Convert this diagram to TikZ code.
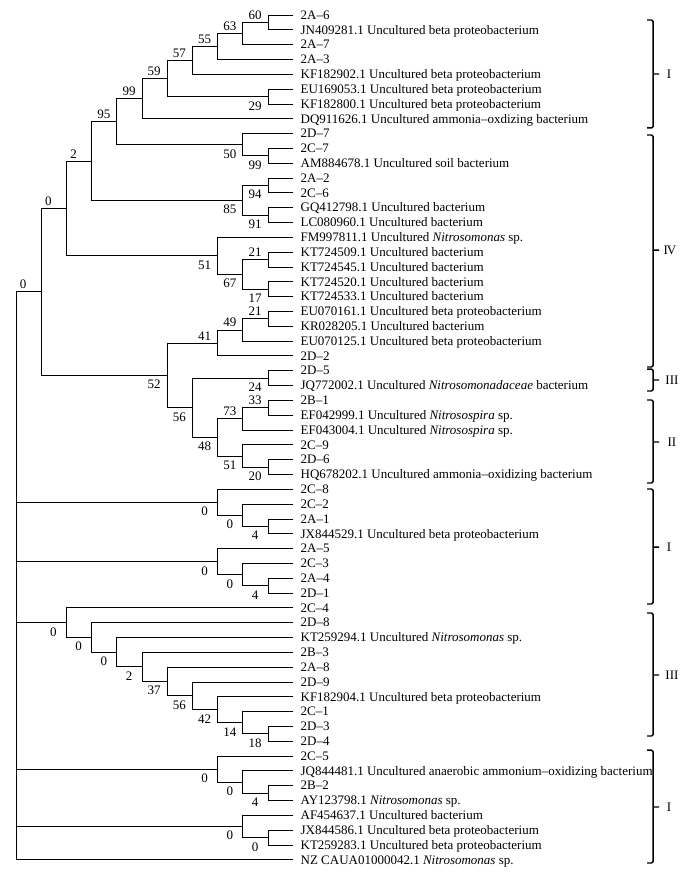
\documentclass[tikz,border=0pt]{standalone}
\usepackage{fontspec}
\setmainfont{Liberation Serif}
\usepackage{tikz}

\begin{document}
\begin{tikzpicture}
[x=25.2pt, y=-14.82pt, line width=0.8pt,
 leaf/.style={anchor=west, inner sep=0pt, inner xsep=7pt, text height=8.6pt, text depth=0pt, font=\fontsize{13}{15}\selectfont},
 bsu/.style={anchor=south, inner sep=0pt, xshift=-13pt, yshift=2.5pt, font=\fontsize{13}{15}\selectfont},
 bsd/.style={anchor=north, inner sep=0pt, xshift=-13pt, yshift=-4.5pt, font=\fontsize{13}{15}\selectfont},
 clade/.style={line width=1.4pt, rounded corners=1.5pt},
 grp/.style={inner sep=0pt, font=\fontsize{13}{15}\selectfont}]
\useasboundingbox (-0.635, -0.012) rectangle (26.98, 59.23);

% leaves
\node[leaf] (l1) at (11,1) {2A--6};
\node[leaf] (l2) at (11,2) {JN409281.1 Uncultured beta proteobacterium};
\node[leaf] (l3) at (11,3) {2A--7};
\node[leaf] (l4) at (11,4) {2A--3};
\node[leaf] (l5) at (11,5) {KF182902.1 Uncultured beta proteobacterium};
\node[leaf] (l6) at (11,6) {EU169053.1 Uncultured beta proteobacterium};
\node[leaf] (l7) at (11,7) {KF182800.1 Uncultured beta proteobacterium};
\node[leaf] (l8) at (11,8) {DQ911626.1 Uncultured ammonia--oxdizing bacterium};
\node[leaf] (l9) at (11,9) {2D--7};
\node[leaf] (l10) at (11,10) {2C--7};
\node[leaf] (l11) at (11,11) {AM884678.1 Uncultured soil bacterium};
\node[leaf] (l12) at (11,12) {2A--2};
\node[leaf] (l13) at (11,13) {2C--6};
\node[leaf] (l14) at (11,14) {GQ412798.1 Uncultured bacterium};
\node[leaf] (l15) at (11,15) {LC080960.1 Uncultured bacterium};
\node[leaf] (l16) at (11,16) {FM997811.1 Uncultured \textit{Nitrosomonas} sp.};
\node[leaf] (l17) at (11,17) {KT724509.1 Uncultured bacterium};
\node[leaf] (l18) at (11,18) {KT724545.1 Uncultured bacterium};
\node[leaf] (l19) at (11,19) {KT724520.1 Uncultured bacterium};
\node[leaf] (l20) at (11,20) {KT724533.1 Uncultured bacterium};
\node[leaf] (l21) at (11,21) {EU070161.1 Uncultured beta proteobacterium};
\node[leaf] (l22) at (11,22) {KR028205.1 Uncultured bacterium};
\node[leaf] (l23) at (11,23) {EU070125.1 Uncultured beta proteobacterium};
\node[leaf] (l24) at (11,24) {2D--2};
\node[leaf] (l25) at (11,25) {2D--5};
\node[leaf] (l26) at (11,26) {JQ772002.1 Uncultured \textit{Nitrosomonadaceae} bacterium};
\node[leaf] (l27) at (11,27) {2B--1};
\node[leaf] (l28) at (11,28) {EF042999.1 Uncultured \textit{Nitrosospira} sp.};
\node[leaf] (l29) at (11,29) {EF043004.1 Uncultured \textit{Nitrosospira} sp.};
\node[leaf] (l30) at (11,30) {2C--9};
\node[leaf] (l31) at (11,31) {2D--6};
\node[leaf] (l32) at (11,32) {HQ678202.1 Uncultured ammonia--oxidizing bacterium};
\node[leaf] (l33) at (11,33) {2C--8};
\node[leaf] (l34) at (11,34) {2C--2};
\node[leaf] (l35) at (11,35) {2A--1};
\node[leaf] (l36) at (11,36) {JX844529.1 Uncultured beta proteobacterium};
\node[leaf] (l37) at (11,37) {2A--5};
\node[leaf] (l38) at (11,38) {2C--3};
\node[leaf] (l39) at (11,39) {2A--4};
\node[leaf] (l40) at (11,40) {2D--1};
\node[leaf] (l41) at (11,41) {2C--4};
\node[leaf] (l42) at (11,42) {2D--8};
\node[leaf] (l43) at (11,43) {KT259294.1 Uncultured \textit{Nitrosomonas} sp.};
\node[leaf] (l44) at (11,44) {2B--3};
\node[leaf] (l45) at (11,45) {2A--8};
\node[leaf] (l46) at (11,46) {2D--9};
\node[leaf] (l47) at (11,47) {KF182904.1 Uncultured beta proteobacterium};
\node[leaf] (l48) at (11,48) {2C--1};
\node[leaf] (l49) at (11,49) {2D--3};
\node[leaf] (l50) at (11,50) {2D--4};
\node[leaf] (l51) at (11,51) {2C--5};
\node[leaf] (l52) at (11,52) {JQ844481.1 Uncultured anaerobic ammonium--oxidizing bacterium};
\node[leaf] (l53) at (11,53) {2B--2};
\node[leaf] (l54) at (11,54) {AY123798.1 \textit{Nitrosomonas} sp.};
\node[leaf] (l55) at (11,55) {AF454637.1 Uncultured bacterium};
\node[leaf] (l56) at (11,56) {JX844586.1 Uncultured beta proteobacterium};
\node[leaf] (l57) at (11,57) {KT259283.1 Uncultured beta proteobacterium};
\node[leaf] (l58) at (11,58) {NZ CAUA01000042.1 \textit{Nitrosomonas} sp.};

% inner nodes and bootstrap values
\coordinate (n60) at (10,1.5); \node[bsu] (b60) at (n60) {60};
\coordinate (n63) at (9,2.25); \node[bsu] (b63) at (n63) {63};
\coordinate (n55) at (8,3.125); \node[bsu] (b55) at (n55) {55};
\coordinate (n57) at (7,4.0625); \node[bsu] (b57) at (n57) {57};
\coordinate (n29) at (10,6.5); \node[bsd] (b29) at (n29) {29};
\coordinate (n59) at (6,5.28125); \node[bsu] (b59) at (n59) {59};
\coordinate (n99a) at (5,6.640625); \node[bsu] (b99a) at (n99a) {99};
\coordinate (n99b) at (10,10.5); \node[bsd] (b99b) at (n99b) {99};
\coordinate (n50) at (9,9.75); \node[bsd] (b50) at (n50) {50};
\coordinate (n95) at (4,8.1953125); \node[bsu] (b95) at (n95) {95};
\coordinate (n94) at (10,12.5); \node[bsd] (b94) at (n94) {94};
\coordinate (n91) at (10,14.5); \node[bsd] (b91) at (n91) {91};
\coordinate (n85) at (9,13.5); \node[bsd] (b85) at (n85) {85};
\coordinate (n2a) at (3,10.84765625); \node[bsu,xshift=-5pt] (b2a) at (n2a) {2};
\coordinate (n21a) at (10,17.5); \node[bsu] (b21a) at (n21a) {21};
\coordinate (n17) at (10,19.5); \node[bsd] (b17) at (n17) {17};
\coordinate (n67) at (9,18.5); \node[bsd] (b67) at (n67) {67};
\coordinate (n51a) at (8,17.25); \node[bsd] (b51a) at (n51a) {51};
\coordinate (n0a) at (2,14.048828); \node[bsu,xshift=-5pt] (b0a) at (n0a) {0};
\coordinate (n21b) at (10,21.5); \node[bsu] (b21b) at (n21b) {21};
\coordinate (n49) at (9,22.25); \node[bsu] (b49) at (n49) {49};
\coordinate (n41) at (8,23.125); \node[bsu] (b41) at (n41) {41};
\coordinate (n24) at (10,25.5); \node[bsd] (b24) at (n24) {24};
\coordinate (n33) at (10,27.5); \node[bsu] (b33) at (n33) {33};
\coordinate (n73) at (9,28.25); \node[bsu] (b73) at (n73) {73};
\coordinate (n20) at (10,31.5); \node[bsd] (b20) at (n20) {20};
\coordinate (n51b) at (9,30.75); \node[bsd] (b51b) at (n51b) {51};
\coordinate (n48) at (8,29.5); \node[bsd] (b48) at (n48) {48};
\coordinate (n56a) at (7,27.5); \node[bsd] (b56a) at (n56a) {56};
\coordinate (n52) at (6,25.3125); \node[bsd] (b52) at (n52) {52};
\coordinate (n0b) at (1,19.680664); \node[bsu,xshift=-5pt] (b0b) at (n0b) {0};
\coordinate (n4a) at (10,35.5); \node[bsd] (b4a) at (n4a) {4};
\coordinate (n0c2) at (9,34.75); \node[bsd] (b0c2) at (n0c2) {0};
\coordinate (n0c) at (8,33.875); \node[bsd] (b0c) at (n0c) {0};
\coordinate (n4b) at (10,39.5); \node[bsd] (b4b) at (n4b) {4};
\coordinate (n0d2) at (9,38.75); \node[bsd] (b0d2) at (n0d2) {0};
\coordinate (n0d) at (8,37.875); \node[bsd] (b0d) at (n0d) {0};
\coordinate (n18) at (10,49.5); \node[bsd] (b18) at (n18) {18};
\coordinate (n14) at (9,48.75); \node[bsd] (b14) at (n14) {14};
\coordinate (n42) at (8,47.875); \node[bsd] (b42) at (n42) {42};
\coordinate (n56b) at (7,46.9375); \node[bsd] (b56b) at (n56b) {56};
\coordinate (n37) at (6,45.96875); \node[bsd] (b37) at (n37) {37};
\coordinate (n2b) at (5,44.984375); \node[bsd] (b2b) at (n2b) {2};
\coordinate (n0e3) at (4,43.992188); \node[bsd] (b0e3) at (n0e3) {0};
\coordinate (n0e2) at (3,42.996094); \node[bsd] (b0e2) at (n0e2) {0};
\coordinate (n0e) at (2,41.998047); \node[bsd] (b0e) at (n0e) {0};
\coordinate (n4c) at (10,53.5); \node[bsd] (b4c) at (n4c) {4};
\coordinate (n0f2) at (9,52.75); \node[bsd] (b0f2) at (n0f2) {0};
\coordinate (n0f) at (8,51.875); \node[bsd] (b0f) at (n0f) {0};
\coordinate (n0g2) at (10,56.5); \node[bsd] (b0g2) at (n0g2) {0};
\coordinate (n0g) at (9,55.75); \node[bsd] (b0g) at (n0g) {0};
\coordinate (root) at (0,19.680664);

% branches
\draw (n60) |- (l1.west) (n60) |- (l2.west);
\draw (n63) |- (n60) (n63) |- (l3.west);
\draw (n55) |- (n63) (n55) |- (l4.west);
\draw (n57) |- (n55) (n57) |- (l5.west);
\draw (n29) |- (l6.west) (n29) |- (l7.west);
\draw (n59) |- (n57) (n59) |- (n29);
\draw (n99a) |- (n59) (n99a) |- (l8.west);
\draw (n99b) |- (l10.west) (n99b) |- (l11.west);
\draw (n50) |- (l9.west) (n50) |- (n99b);
\draw (n95) |- (n99a) (n95) |- (n50);
\draw (n94) |- (l12.west) (n94) |- (l13.west);
\draw (n91) |- (l14.west) (n91) |- (l15.west);
\draw (n85) |- (n94) (n85) |- (n91);
\draw (n2a) |- (n95) (n2a) |- (n85);
\draw (n21a) |- (l17.west) (n21a) |- (l18.west);
\draw (n17) |- (l19.west) (n17) |- (l20.west);
\draw (n67) |- (n21a) (n67) |- (n17);
\draw (n51a) |- (l16.west) (n51a) |- (n67);
\draw (n0a) |- (n2a) (n0a) |- (n51a);
\draw (n21b) |- (l21.west) (n21b) |- (l22.west);
\draw (n49) |- (n21b) (n49) |- (l23.west);
\draw (n41) |- (n49) (n41) |- (l24.west);
\draw (n24) |- (l25.west) (n24) |- (l26.west);
\draw (n33) |- (l27.west) (n33) |- (l28.west);
\draw (n73) |- (n33) (n73) |- (l29.west);
\draw (n20) |- (l31.west) (n20) |- (l32.west);
\draw (n51b) |- (l30.west) (n51b) |- (n20);
\draw (n48) |- (n73) (n48) |- (n51b);
\draw (n56a) |- (n24) (n56a) |- (n48);
\draw (n52) |- (n41) (n52) |- (n56a);
\draw (n0b) |- (n0a) (n0b) |- (n52);
\draw (n4a) |- (l35.west) (n4a) |- (l36.west);
\draw (n0c2) |- (l34.west) (n0c2) |- (n4a);
\draw (n0c) |- (l33.west) (n0c) |- (n0c2);
\draw (n4b) |- (l39.west) (n4b) |- (l40.west);
\draw (n0d2) |- (l38.west) (n0d2) |- (n4b);
\draw (n0d) |- (l37.west) (n0d) |- (n0d2);
\draw (n18) |- (l49.west) (n18) |- (l50.west);
\draw (n14) |- (l48.west) (n14) |- (n18);
\draw (n42) |- (l47.west) (n42) |- (n14);
\draw (n56b) |- (l46.west) (n56b) |- (n42);
\draw (n37) |- (l45.west) (n37) |- (n56b);
\draw (n2b) |- (l44.west) (n2b) |- (n37);
\draw (n0e3) |- (l43.west) (n0e3) |- (n2b);
\draw (n0e2) |- (l42.west) (n0e2) |- (n0e3);
\draw (n0e) |- (l41.west) (n0e) |- (n0e2);
\draw (n4c) |- (l53.west) (n4c) |- (l54.west);
\draw (n0f2) |- (l52.west) (n0f2) |- (n4c);
\draw (n0f) |- (l51.west) (n0f) |- (n0f2);
\draw (n0g2) |- (l56.west) (n0g2) |- (l57.west);
\draw (n0g) |- (l55.west) (n0g) |- (n0g2);
\draw (root) -- (n0b) (root) |- (n0c) (root) |- (n0d) (root) |- (n0e)
      (root) |- (n0f) (root) |- (n0g) (root) |- (l58.west);

% clusters
\draw[clade] (25.04,1.34) -- (25.28,1.34) -- (25.28,8.62) -- (25.04,8.62) (25.28,4.98) -- (25.52,4.98);
\node[grp] (g1) at (25.91,4.98) {I};
\draw[clade] (25.04,9.10) -- (25.28,9.10) -- (25.28,24.75) -- (25.04,24.75) (25.28,16.86) -- (25.52,16.86);
\node[grp] (g2) at (25.95,16.86) {I\kern-1ptV};
\draw[clade] (25.04,24.89) -- (25.28,24.89) -- (25.28,26.37) -- (25.04,26.37) (25.28,25.63) -- (25.52,25.63);
\node[grp] (g3) at (26.03,25.63) {III};
\draw[clade] (25.04,26.98) -- (25.28,26.98) -- (25.28,32.58) -- (25.04,32.58) (25.28,29.81) -- (25.52,29.81);
\node[grp] (g4) at (26.03,29.81) {II};
\draw[clade] (25.04,32.98) -- (25.28,32.98) -- (25.28,40.74) -- (25.04,40.74) (25.28,36.90) -- (25.52,36.90);
\node[grp] (g5) at (25.91,36.90) {I};
\draw[clade] (25.04,41.35) -- (25.28,41.35) -- (25.28,49.65) -- (25.04,49.65) (25.28,45.53) -- (25.52,45.53);
\node[grp] (g6) at (26.03,45.53) {III};
\draw[clade] (25.04,50.60) -- (25.28,50.60) -- (25.28,58.22) -- (25.04,58.22) (25.28,54.44) -- (25.52,54.44);
\node[grp] (g7) at (25.91,54.44) {I};
\end{tikzpicture}
\end{document}
